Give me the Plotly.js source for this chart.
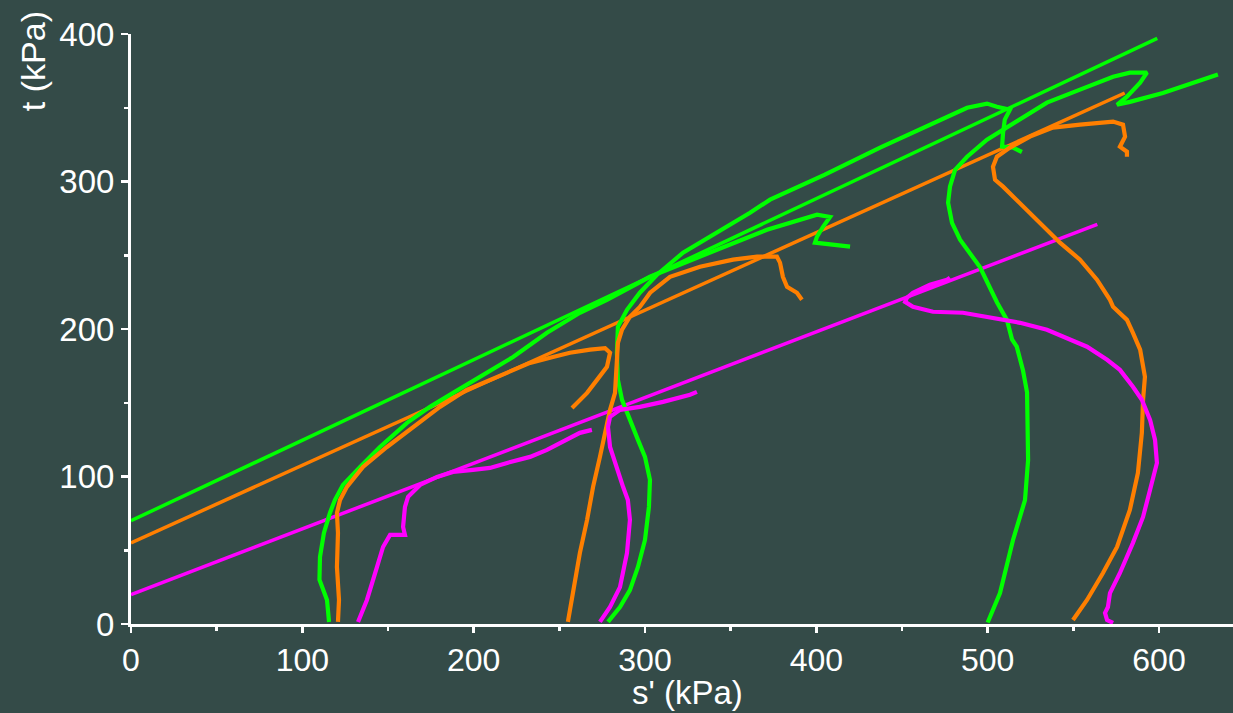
<!DOCTYPE html>
<html>
<head>
<meta charset="utf-8">
<script src="https://cdn.plot.ly/plotly-3.0.1.min.js"></script>
<style>html,body{margin:0;padding:0;background:#344b48;}#chart{width:1233px;height:713px;}</style>
</head>
<body>
<div id="chart"></div>
<script>
// Failure envelopes (s', t)
const greenEnvS = [0, 599];
const greenEnvT = [70, 397];
const orangeEnvS = [0, 580];
const orangeEnvT = [55, 360];
const magentaEnvS = [0, 564];
const magentaEnvT = [20, 271];

// Green stress paths
const g1S = [115.6,114.4,110,110.3,112.6,116.1,119,123.7,133.7,145.3,161.1,174.5,188,203.7,223,242.8,262,277.8,302.9,342,371.2,400.4,408,403.9,400.4,399.2,409.7,419.7];
const g1T = [1.4,16.3,30,45.5,61.7,75.3,84,94.3,106.5,120,136.4,147.2,156.7,167.6,181,197.4,211,219.8,235.4,253.7,267.3,277.5,276,269.3,262.6,258.5,257.1,255.8];
const g2S = [278.4,285.4,291.2,295.9,300,302.3,302.9,300,295.9,293,289.5,286.6,284.2,283.6,284.2,289.5,297,307,322.2,342,361.3,373,405,437.2,456.4,476.3,488,499.6,505.4,513,510,509,508.4,514.8,520];
const g2T = [1.4,11.5,23,38.7,57,79.4,97.7,113.3,124.8,133.6,143,152,165.5,183.9,201.5,213,224.6,236.8,251.7,265.3,278.8,287.7,304.6,323,333,344,350,352.8,350.7,348.7,342,333,323.6,323,320];
const g3S = [500,507.2,514.8,521.8,523.6,523.6,523,520.6,517,514.2,511.3,505.5,495.5,483.9,479.2,476.9,478,481,488,499.6,509,518.9,534.6,553.9,573.2,583,593,589,581.3,575.5,583,602.3,622.2,634.4];
const g3T = [1,21,57,84,111,134,157,172,188,193,206,218,242,260.5,272,285.6,296.5,308,316.8,328.4,335,342,353.5,362.3,371,373.8,373.8,367,357.5,352,354,360,367.7,372.5];

// Orange stress paths
const o1S = [120.8,121.4,120.2,120.8,120.2,122,126,132,135.4,149.4,164.6,180.3,196,213.6,232.9,246.3,256.2,268,276.7,279.6,277.8,272,266.2,257.4];
const o1T = [1.4,16.3,38.7,61.7,75.3,84,93,101,106.5,120,133.6,147.2,158.8,167.6,177,181,183.9,186,187,183.9,174.4,165.5,156.7,146.5];
const o2S = [255,258,262,266.2,269.7,273.7,276.7,279.6,282.5,283.7,284.2,286.6,291.2,297,303,314.6,332.1,351.4,365.4,377,378.8,380.5,382.9,388.7,391.6];
const o2T = [1.4,21,48.2,70.6,93,113.3,129.6,145.2,156.7,174.4,190.6,199.5,208.3,215,224.6,235.4,242.2,247,249,249,245,235.4,228.6,224.6,219.8];
const o3S = [549.8,558,567.3,575.5,583,587.7,590,590.7,591.8,589,584.8,581.3,573.2,571.4,563.8,553.9,542.2,530.5,518.9,509,504.3,503.1,505.4,513,524.7,538.1,554,573.2,579,580.2,577.2,581.3,581.3];
const o3T = [2.7,16.3,34.6,52.2,77.3,102.4,129.6,152,167.6,186,197.4,206.2,215,219.8,233.4,247,258.5,272,285.6,296.5,301.2,310,316.8,323,330.4,336.5,338.5,340.6,338.5,330.4,323.6,320.2,316.8];

// Magenta stress paths
const m1S = [132.5,137.7,143.6,147.1,151.2,159.9,158.8,159.9,161.7,168.7,178.6,187.9,199.6,209.5,219.5,232.9,242.8,254.5,262,269];
const m1T = [1.4,16.3,38.7,52.2,60.4,60.4,65.8,79.4,86.2,94.3,99.7,103.1,104.5,105.8,109.2,113.3,118,124.8,129.6,131.6];
const m2S = [273.7,279.6,285.4,289.5,291.2,290,287.2,283.7,279.6,278.4,279.6,285.4,297,310.5,326.3,330.3];
const m2T = [1.4,11.5,25,48.2,70.6,84.1,93,106.5,120,133.6,140.4,145.2,147.2,150.6,155.4,157.4];
const m3S = [573.2,569.7,568.5,570.2,571.4,577.2,584.8,590.7,594.8,598.8,597.7,594.8,590,584.8,577.2,569.7,558,546.3,534.6,518.9,503.1,485.6,468.1,456.4,451.8,452.9,456.4,466.3,476.3,478];
const m3T = [0.7,2.7,7.5,11.5,21,34.6,55,72.6,91,109.2,124.8,138.4,152,160.8,172.3,179.1,188,194,199.5,204.2,207.6,211,211.7,215,218.4,221.2,224.6,230,233.4,234.7];

const GREEN = '#00ff00', ORANGE = '#ff7f00', MAGENTA = '#ff00ff';

function tr(x, y, color, w) {
  return {x: x, y: y, type: 'scatter', mode: 'lines', line: {color: color, width: w}, hoverinfo: 'skip', showlegend: false};
}

const data = [
  tr(greenEnvS, greenEnvT, GREEN, 3.5),
  tr(orangeEnvS, orangeEnvT, ORANGE, 3.5),
  tr(magentaEnvS, magentaEnvT, MAGENTA, 3.5),
  tr(g1S, g1T, GREEN, 4.2), tr(g2S, g2T, GREEN, 4.2), tr(g3S, g3T, GREEN, 4.2),
  tr(o1S, o1T, ORANGE, 4.2), tr(o2S, o2T, ORANGE, 4.2), tr(o3S, o3T, ORANGE, 4.2),
  tr(m1S, m1T, MAGENTA, 4.2), tr(m2S, m2T, MAGENTA, 4.2), tr(m3S, m3T, MAGENTA, 4.2)
];

const FONT = 'Liberation Sans, Arial, sans-serif';

const layout = {
  width: 1233, height: 713,
  paper_bgcolor: '#344b48', plot_bgcolor: '#344b48',
  margin: {l: 131, r: 0, t: 34, b: 89, pad: 0},
  font: {family: FONT, color: '#ffffff', size: 32},
  showlegend: false,
  xaxis: {
    range: [0, 643.2], showgrid: false, zeroline: false,
    showline: true, linecolor: '#ffffff', linewidth: 3,
    ticks: 'outside', ticklen: 6, tickwidth: 2.5, tickcolor: '#ffffff',
    dtick: 100, tick0: 0,
    tickfont: {family: FONT, size: 32, color: '#ffffff'},
    minor: {dtick: 50, ticks: 'outside', ticklen: 4, tickwidth: 2.5, tickcolor: '#ffffff', showgrid: false}
  },
  yaxis: {
    range: [0, 400], showgrid: false, zeroline: false,
    showline: true, linecolor: '#ffffff', linewidth: 3,
    ticks: 'outside', ticklen: 7, tickwidth: 2.5, tickcolor: '#ffffff',
    dtick: 100, tick0: 0,
    tickfont: {family: FONT, size: 33, color: '#ffffff'},
    minor: {dtick: 50, ticks: 'outside', ticklen: 4, tickwidth: 2.5, tickcolor: '#ffffff', showgrid: false}
  },
  annotations: [{
    text: 't (kPa)', xref: 'paper', yref: 'paper', x: -0.0889, y: 0.954,
    xanchor: 'center', yanchor: 'middle', textangle: -90, showarrow: false,
    font: {family: FONT, size: 34, color: '#ffffff'}
  }, {
    text: "s' (kPa)", xref: 'paper', yref: 'paper', x: 0.505, y: -0.150,
    xanchor: 'center', yanchor: 'bottom', showarrow: false,
    font: {family: FONT, size: 33, color: '#ffffff'}
  }]
};

Plotly.newPlot('chart', data, layout, {displayModeBar: false, staticPlot: true});
</script>
</body>
</html>
